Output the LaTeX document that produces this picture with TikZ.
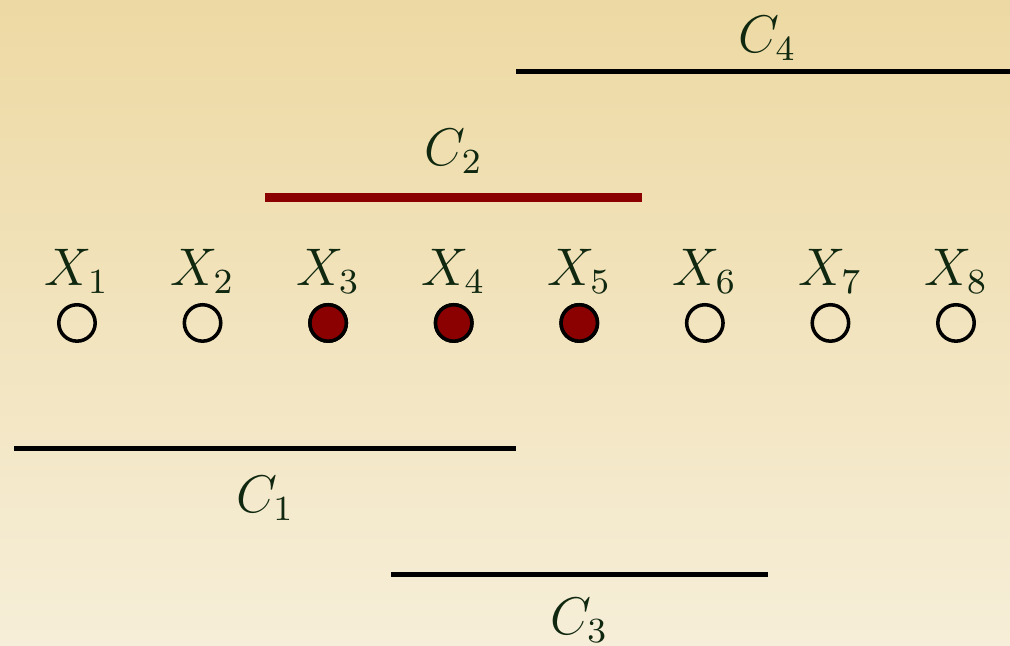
\documentclass[tikz,border=0pt]{standalone}
\usepackage{amsmath}
\usepackage{xcolor}
\usepackage{tikz}
\usetikzlibrary{
  positioning,
  calc
}

\definecolor{bgtop}{RGB}{237,217,163}
\definecolor{bgbottom}{RGB}{246,238,216}
\definecolor{inkgreen}{RGB}{16,40,16}
\definecolor{pickred}{RGB}{139,0,0}

\begin{document}
\begin{tikzpicture}[
  font=\large,
  text=inkgreen,
  point/.style={
    circle,
    draw=black,
    thick,
    fill=none,
    inner sep=0pt,
    minimum size=0.29cm
  },
  chosen/.style={
    point,
    fill=pickred
  },
  cover/.style={
    line width=1.1pt,
    draw=black
  },
  pick/.style={
    line width=2pt,
    draw=pickred
  },
  tag/.style={
    anchor=base
  }
]

\useasboundingbox (0.387,-2.572) rectangle (8.43,2.572);
\shade[top color=bgtop, bottom color=bgbottom] (0.387,-2.572) rectangle (8.43,2.572);

% the eight variables
\foreach \i in {1,...,8}{
  \node[point] (x\i) at (\i,0) {};
  \node[tag] (l\i) at (\i,0.30) {$X_{\i}$};
}
\foreach \i in {3,4,5}{
  \node[chosen] at (x\i) {};
}

% the covering sets
\coordinate (c1a) at (0.5,-1);
\coordinate (c1b) at (4.5,-1);
\coordinate (c2a) at (2.5,1);
\coordinate (c2b) at (5.5,1);
\coordinate (c3a) at (3.5,-2);
\coordinate (c3b) at (6.5,-2);
\coordinate (c4a) at (4.5,2);
\coordinate (c4b) at (8.5,2);

\draw[cover] (c1a) -- (c1b);
\draw[pick] (c2a) -- (c2b);
\draw[cover] (c3a) -- (c3b);
\draw[cover] (c4a) -- (c4b);

\node[tag] (t1) at (2.5,-1.513) {$C_1$};
\node[tag] (t2) at (4.0,1.25) {$C_2$};
\node[tag] (t3) at (5.0,-2.484) {$C_3$};
\node[tag] (t4) at (6.5,2.154) {$C_4$};

\end{tikzpicture}
\end{document}
